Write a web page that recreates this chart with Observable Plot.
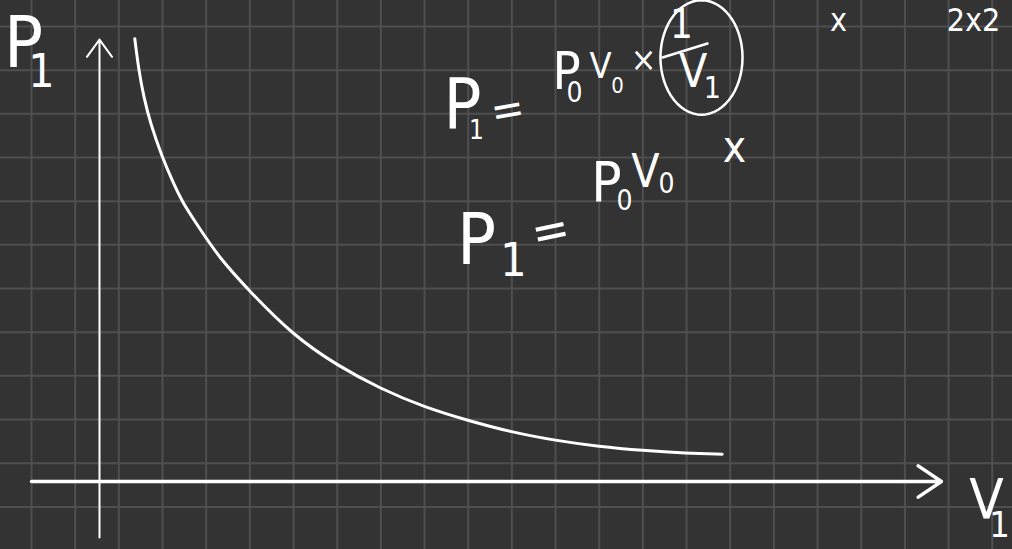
<!DOCTYPE html>
<html>
<head>
<meta charset="utf-8">
<script src="https://cdn.jsdelivr.net/npm/d3@7"></script>
<script src="https://cdn.jsdelivr.net/npm/@observablehq/plot@0.6"></script>
<style>
  html, body { margin: 0; padding: 0; background: #333333; overflow: hidden; }
  svg { display: block; }
</style>
</head>
<body>
<div id="chart"></div>
<script>
// Coordinates: grid units (1 unit = one grid square), origin at the axes' crossing
// Hand-drawn curve P1 against V1
const curveV = [0.808, 0.900, 1.014, 1.168, 1.436, 1.665, 1.894, 2.274, 2.732, 3.419, 4.436, 5.443, 6.435, 7.442, 8.434, 9.434, 10.442, 11.433, 12.441, 13.442, 14.259];
const curveP = [10.137, 9.412, 8.800, 8.191, 7.426, 6.893, 6.396, 5.824, 5.137, 4.374, 3.343, 2.656, 2.123, 1.701, 1.397, 1.129, 0.939, 0.801, 0.710, 0.648, 0.625];

// Axes (arrows)
const axisNames = ["P1 axis", "V1 axis"];
const axisX1 = [0, -1.557];
const axisY1 = [-1.28, 0];
const axisX2 = [0, 19.28];
const axisY2 = [10.12, 0];

// Handwritten labels
const labelText = ["P", "1",
  "P", "1", "=", "P", "0", "V", "0", "×", "1", "V", "1",
  "x",
  "P", "1", "=", "P", "0", "V", "0",
  "x", "2x2",
  "V", "1"];
const labelV = [-1.740, -1.328,
  8.312, 8.633, 9.343, 10.694, 10.877, 11.472, 11.862, 12.457, 13.327, 13.597, 14.032,
  14.541,
  8.633, 9.480, 10.328, 11.610, 12.022, 12.503, 12.984,
  16.922, 19.40,
  20.311, 20.609];
const labelP = [10.030, 9.366,
  8.610, 8.038, 8.496, 9.366, 8.885, 9.503, 9.068, 9.641, 10.442, 9.366, 8.999,
  7.648,
  5.519, 5.038, 5.725, 6.824, 6.412, 7.076, 6.801,
  10.557, 10.557,
  -0.435, -1.008];
const labelSize = [72, 46,
  70, 26, 44, 52, 28, 36, 22, 34, 40, 46, 30,
  44,
  72, 46, 50, 56, 28, 46, 28,
  32, 32,
  56, 36];
const labelRotate = [0, 0,
  0, 0, -10, 0, 0, 0, 0, 0, 0, 0, 0,
  0,
  0, 0, -12, 0, 0, 0, 0,
  0, 0,
  0, 0];
const labelAnchor = ["middle", "middle",
  "middle", "middle", "middle", "middle", "middle", "middle", "middle", "middle", "middle", "middle", "middle",
  "middle",
  "middle", "middle", "middle", "middle", "middle", "middle", "middle",
  "middle", "start",
  "middle", "middle"];

// Circle around the fraction 1/V1
const ringCenterV = 13.785, ringCenterP = 9.709, ringRx = 0.94, ringRy = 1.31;
// Fraction bar
const barV1 = 12.892, barP1 = 9.709, barV2 = 13.923, barP2 = 10.030;

// Background grid lines (grid squares)
const gridX = d3.range(-1.557, 21, 1);
const gridY = d3.range(10.419, -1.7, -1);

const curve = curveV.map((v, i) => ({V: v, P: curveP[i]}));
const axes = axisNames.map((n, i) => ({name: n, x1: axisX1[i], y1: axisY1[i], x2: axisX2[i], y2: axisY2[i]}));
const labels = labelText.map((t, i) => ({text: t, V: labelV[i], P: labelP[i], size: labelSize[i], rotate: labelRotate[i], anchor: labelAnchor[i]}));
const ring = d3.range(0, 361, 6).map(a => ({
  V: ringCenterV + ringRx * Math.cos(a * Math.PI / 180),
  P: ringCenterP + ringRy * Math.sin(a * Math.PI / 180)
}));

const font = "'Liberation Sans Narrow', 'DejaVu Sans Condensed', 'Liberation Sans', sans-serif";

const plot = Plot.plot({
  width: 1012,
  height: 549,
  margin: 0,
  x: {domain: [-2.267, 20.907], axis: null},
  y: {domain: [-1.557, 11.014], axis: null},
  style: {background: "#333333", fontFamily: font},
  marks: [
    Plot.ruleX(gridX, {x: d => d, stroke: "#4f4f4f", strokeWidth: 2}),
    Plot.ruleY(gridY, {y: d => d, stroke: "#4f4f4f", strokeWidth: 2}),
    Plot.arrow(axes.slice(0, 1), {x1: "x1", y1: "y1", x2: "x2", y2: "y2", stroke: "white", strokeWidth: 2, headLength: 16, headAngle: 72}),
    Plot.arrow(axes.slice(1), {x1: "x1", y1: "y1", x2: "x2", y2: "y2", stroke: "white", strokeWidth: 3.5, headLength: 12, headAngle: 68}),
    Plot.line(curve, {x: "V", y: "P", stroke: "white", strokeWidth: 3, curve: "basis", strokeLinecap: "round"}),
    Plot.line(ring, {x: "V", y: "P", stroke: "white", strokeWidth: 2.5, curve: "linear"}),
    Plot.link([{x1: barV1, y1: barP1, x2: barV2, y2: barP2}], {x1: "x1", y1: "y1", x2: "x2", y2: "y2", stroke: "white", strokeWidth: 2.5, strokeLinecap: "round"}),
    Plot.text(labels.filter(d => d.anchor === "middle"), {x: "V", y: "P", text: "text", fontSize: "size", rotate: "rotate", fill: "white", textAnchor: "middle", lineAnchor: "middle"}),
    Plot.text(labels.filter(d => d.anchor === "start"), {x: "V", y: "P", text: "text", fontSize: "size", rotate: "rotate", fill: "white", textAnchor: "start", lineAnchor: "middle"})
  ]
});
document.getElementById("chart").appendChild(plot);
</script>
</body>
</html>
